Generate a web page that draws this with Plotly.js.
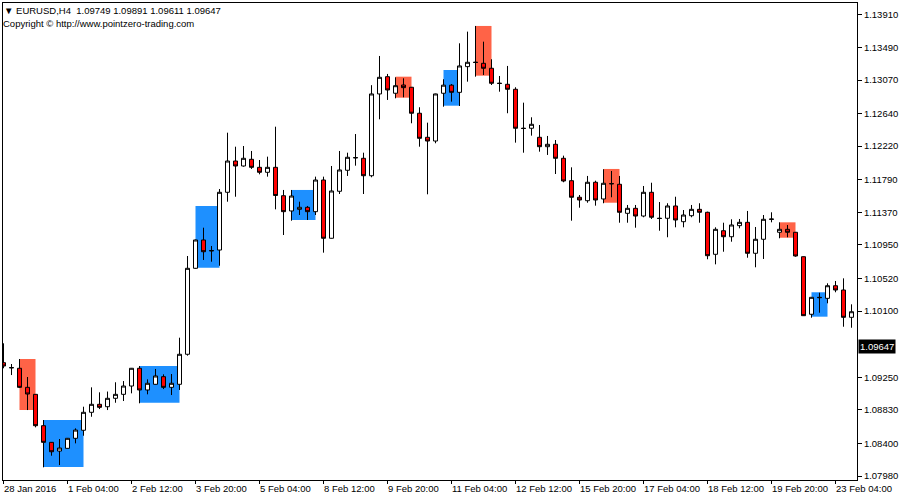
<!DOCTYPE html>
<html><head><meta charset="utf-8">
<script src="https://cdn.plot.ly/plotly-3.0.1.min.js"></script>
<style>html,body{margin:0;padding:0;background:#fff}#chart{width:900px;height:500px}</style>
</head><body><div id="chart"></div>
<script>
const openP = [1.09437,1.09375,1.09365,1.09120,1.09030,1.08627,1.08413,1.08301,1.08336,1.08465,
1.08568,1.08799,1.08902,1.08871,1.08979,1.09030,1.09137,1.09365,1.09086,1.09159,
1.09257,1.09120,1.09159,1.09545,1.10650,1.11014,1.10879,1.10885,1.11627,1.12029,
1.11965,1.12051,1.11948,1.11884,1.11948,1.11583,1.11387,1.11408,1.11434,1.11378,
1.11785,1.11036,1.11640,1.11910,1.12074,1.12064,1.11840,1.12891,1.13113,1.12900,
1.13006,1.12977,1.12643,1.12334,1.12286,1.12900,1.13004,1.12912,1.13242,1.13299,
1.13285,1.13221,1.13029,1.13015,1.12951,1.12451,1.12450,1.12334,1.12213,1.12244,
1.12064,1.11776,1.11563,1.11519,1.11756,1.11541,1.11740,1.11730,1.11357,1.11421,
1.11322,1.11627,1.11294,1.11293,1.11451,1.11249,1.11326,1.11408,1.11370,1.10830,
1.11133,1.11056,1.11198,1.11241,1.10843,1.11023,1.11284,1.11113,1.11151,1.11113,
1.10799,1.10059,1.10277,1.10264,1.10426,1.10371,1.10020];
const highP = [1.09686,1.09420,1.09484,1.09253,1.09034,1.08700,1.08417,1.08456,1.08469,1.08593,
1.08871,1.09120,1.09056,1.09066,1.09185,1.09201,1.09369,1.09394,1.09223,1.09356,
1.09287,1.09291,1.09758,1.10808,1.11020,1.11172,1.10937,1.11669,1.12393,1.12213,
1.12222,1.12158,1.12042,1.12085,1.12470,1.11657,1.11657,1.11506,1.11451,1.11828,
1.11828,1.11965,1.12158,1.12136,1.12376,1.12136,1.13004,1.13379,1.13148,1.13105,
1.13092,1.12981,1.12720,1.12522,1.12895,1.13080,1.13019,1.13542,1.13692,1.13765,
1.13563,1.13337,1.13122,1.13251,1.12977,1.12779,1.12591,1.12492,1.12351,1.12299,
1.12098,1.11948,1.11592,1.11837,1.11776,1.11923,1.11901,1.11837,1.11464,1.11464,
1.11708,1.11750,1.11502,1.11486,1.11570,1.11399,1.11464,1.11486,1.11378,1.11177,
1.11236,1.11280,1.11284,1.11387,1.11181,1.11335,1.11370,1.11241,1.11207,1.11117,
1.10802,1.10281,1.10336,1.10457,1.10487,1.10521,1.10187];
const lowP = [1.09365,1.09278,1.09111,1.08828,1.08606,1.08092,1.08241,1.08121,1.08334,1.08400,
1.08498,1.08742,1.08841,1.08828,1.08922,1.08944,1.09043,1.08915,1.09030,1.09156,
1.09098,1.09021,1.09086,1.09527,1.10644,1.10757,1.10735,1.10683,1.11506,1.11570,
1.11956,1.11927,1.11858,1.11828,1.11408,1.11078,1.11262,1.11335,1.11271,1.11335,
1.10851,1.11033,1.11605,1.11837,1.11969,1.11605,1.11820,1.12565,1.12814,1.12835,
1.12848,1.12514,1.12213,1.11601,1.12257,1.12727,1.12792,1.12736,1.13049,1.13113,
1.13135,1.13006,1.12920,1.12643,1.12265,1.12136,1.12355,1.12149,1.12107,1.11862,
1.11756,1.11262,1.11429,1.11493,1.11455,1.11486,1.11563,1.11236,1.11236,1.11172,
1.11306,1.11284,1.11133,1.11049,1.11177,1.11177,1.11306,1.11236,1.10766,1.10701,
1.10863,1.10992,1.11164,1.10786,1.10663,1.10770,1.11241,1.11036,1.11049,1.10799,
1.10037,1.10015,1.10079,1.10200,1.10342,1.09899,1.09886];
const closeP = [1.09394,1.09371,1.09120,1.09034,1.08627,1.08413,1.08292,1.08340,1.08465,1.08571,
1.08799,1.08902,1.08863,1.08979,1.09030,1.09137,1.09365,1.09086,1.09172,1.09266,
1.09120,1.09172,1.09545,1.10650,1.11014,1.10863,1.10875,1.11627,1.12029,1.11965,
1.12064,1.11948,1.11884,1.11948,1.11586,1.11378,1.11579,1.11434,1.11378,1.11785,
1.11036,1.11644,1.11914,1.12077,1.12070,1.11840,1.12891,1.13105,1.12942,1.12997,
1.12972,1.12643,1.12321,1.12286,1.12891,1.13004,1.12912,1.13251,1.13298,1.13296,
1.13221,1.13028,1.13026,1.12951,1.12450,1.12447,1.12501,1.12213,1.12244,1.12064,
1.11772,1.11563,1.11528,1.11756,1.11528,1.11743,1.11736,1.11370,1.11421,1.11322,
1.11627,1.11306,1.11290,1.11451,1.11271,1.11335,1.11408,1.11370,1.10812,1.11151,
1.11056,1.11207,1.11241,1.10843,1.11023,1.11280,1.11280,1.11151,1.11113,1.10808,
1.10041,1.10277,1.10273,1.10426,1.10371,1.10020,1.10092];

const xTickIdx = [0,8,16,24,32,40,48,56,64,72,80,88,96,104];
const xTickLabels = ["28 Jan 2016","1 Feb 04:00","2 Feb 12:00","3 Feb 20:00","5 Feb 04:00","8 Feb 12:00","9 Feb 20:00","11 Feb 04:00","12 Feb 12:00","15 Feb 20:00","17 Feb 04:00","18 Feb 12:00","19 Feb 20:00","23 Feb 04:00"];
const yTickVals = [1.13910,1.13490,1.13070,1.12640,1.12220,1.11790,1.11370,1.10950,1.10520,1.10100,1.09250,1.08830,1.08400,1.07980];

const rectStart = [2,5,17,24,36,49,55,59,75,97,101];
const rectEnd   = [4,10,22,27,39,51,57,61,77,99,103];
const rectTop   = [1.09484,1.08700,1.09394,1.11451,1.11657,1.13113,1.13199,1.13765,1.11927,1.11241,1.10342];
const rectBottom= [1.08828,1.08096,1.08922,1.10658,1.11271,1.12843,1.12740,1.13126,1.11493,1.11043,1.10028];
const rectKind  = ["sell","buy","buy","buy","buy","sell","buy","sell","sell","sell","buy"];

const symbolText = "EURUSD,H4";
const lastBar = [1.09749,1.09891,1.09611,1.09647];
const currentPrice = 1.09647;
const copyrightText = "Copyright © http://www.pointzero-trading.com";

const FONT = "Liberation Sans, Arial, sans-serif";
const idx = openP.map((_, i) => i);

const trace = {
  type: "candlestick",
  x: idx, open: openP, high: highP, low: lowP, close: closeP,
  increasing: {line: {color: "#000000", width: 1}, fillcolor: "#ffffff"},
  decreasing: {line: {color: "#000000", width: 1}, fillcolor: "#ff0000"},
  whiskerwidth: 0,
  hoverinfo: "skip",
  showlegend: false
};

const kindColor = {buy: "#1E90FF", sell: "#FF6347"};
const shapes = rectStart.map((s, k) => ({
  type: "rect", xref: "x", yref: "y", layer: "below",
  x0: s, x1: rectEnd[k], y0: rectBottom[k], y1: rectTop[k],
  fillcolor: kindColor[rectKind[k]], line: {width: 0}
}));

const annotations = xTickIdx.map((t, k) => ({
  xref: "x", yref: "paper", x: t, y: 0, xanchor: "left", yanchor: "top",
  yshift: -1, xshift: -2, showarrow: false, text: xTickLabels[k],
  font: {family: FONT, size: 9.5, color: "#000"}
}));
annotations.push({
  xref: "paper", yref: "paper", x: 0, y: 1, xanchor: "left", yanchor: "top",
  xshift: -1, yshift: 0, showarrow: false,
  text: "▼ " + symbolText + "  " + lastBar.map(v => v.toFixed(5)).join(" "),
  font: {family: FONT, size: 9.5, color: "#000"}
});
annotations.push({
  xref: "paper", yref: "paper", x: 0, y: 1, xanchor: "left", yanchor: "top",
  xshift: -2, yshift: -13, showarrow: false, text: copyrightText,
  font: {family: FONT, size: 9.5, color: "#000"}
});
annotations.push({
  xref: "paper", yref: "y", x: 1, y: currentPrice, xanchor: "left", yanchor: "middle",
  xshift: 1, showarrow: false, text: currentPrice.toFixed(5),
  bgcolor: "#000000", borderpad: 1,
  font: {family: FONT, size: 9.5, color: "#ffffff"}
});

const layout = {
  width: 900, height: 500,
  margin: {l: 3, r: 43, t: 3, b: 20},
  paper_bgcolor: "#ffffff", plot_bgcolor: "#ffffff",
  showlegend: false, hovermode: false,
  boxgap: 0.5, boxgroupgap: 0,
  font: {family: FONT, size: 9.5, color: "#000"},
  xaxis: {
    type: "linear", range: [-0.0625, 106.6875], fixedrange: true,
    rangeslider: {visible: false},
    showgrid: false, zeroline: false,
    showline: true, mirror: true, linecolor: "#000", linewidth: 1,
    tickvals: xTickIdx, ticks: "outside", ticklen: 3, tickcolor: "#000",
    showticklabels: false
  },
  yaxis: {
    range: [1.07929, 1.14060], side: "right", fixedrange: true,
    showgrid: false, zeroline: false,
    showline: true, mirror: true, linecolor: "#000", linewidth: 1,
    tickvals: yTickVals, ticktext: yTickVals.map(v => v.toFixed(5)),
    ticks: "outside", ticklen: 4, tickcolor: "#000",
    tickfont: {family: FONT, size: 9.5, color: "#000"}
  },
  shapes: shapes,
  annotations: annotations
};

Plotly.newPlot("chart", [trace], layout, {staticPlot: true, displayModeBar: false});
</script></body></html>
